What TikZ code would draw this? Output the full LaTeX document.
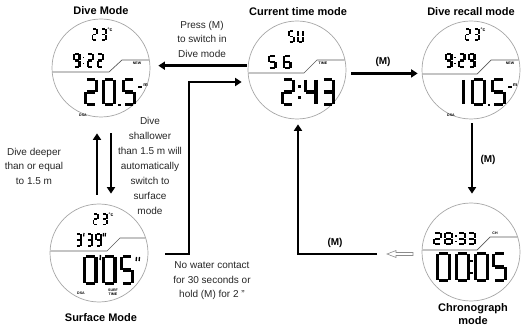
\documentclass[tikz,border=0pt]{standalone}
\usepackage{fontspec}
\setmainfont{Liberation Sans}
\usetikzlibrary{arrows.meta}
\newcommand\lcdA{\draw[segh] (0,0)--(1,0);}
\newcommand\lcdB{\draw[segv] (1,0)--(1,.5);}
\newcommand\lcdC{\draw[segv] (1,.5)--(1,1);}
\newcommand\lcdD{\draw[segh] (0,1)--(1,1);}
\newcommand\lcdE{\draw[segv] (0,.5)--(0,1);}
\newcommand\lcdF{\draw[segv] (0,0)--(0,.5);}
\newcommand\lcdG{\draw[segh] (0,.5)--(1,.5);}
% \dg[line width]{left}{top}{width}{height}{code: 0-9 digits, 10 = U}
\newcommand\dg[6][1.8]{%
 \pgfmathsetmacro\dgW{#4-#1}%
 \pgfmathsetmacro\dgH{#5-#1}%
 \pgfmathsetmacro\dgX{#2+#1/2}%
 \pgfmathsetmacro\dgY{#3+#1/2}%
 \pgfmathsetmacro\dgS{#1*0.3+0.25}%
 \begin{scope}[shift={(\dgX,\dgY)}, x=\dgW pt, y=-\dgH pt, line width=#1pt, line cap=butt,
   segh/.style={shorten <=\dgS pt, shorten >=\dgS pt},
   segv/.style={shorten <=0.3pt, shorten >=0.3pt}]
 \ifcase#6 \lcdA\lcdB\lcdC\lcdD\lcdE\lcdF
 \or \lcdB\lcdC
 \or \lcdA\lcdB\lcdG\lcdE\lcdD
 \or \lcdA\lcdB\lcdG\lcdC\lcdD
 \or \lcdF\lcdG\lcdB\lcdC
 \or \lcdA\lcdF\lcdG\lcdC\lcdD
 \or \lcdA\lcdF\lcdG\lcdE\lcdC\lcdD
 \or \lcdA\lcdB\lcdC
 \or \lcdA\lcdB\lcdC\lcdD\lcdE\lcdF\lcdG
 \or \lcdA\lcdB\lcdC\lcdD\lcdF\lcdG
 \or \lcdB\lcdC\lcdD\lcdE\lcdF
 \fi
 \end{scope}}
% \lcdcolon{x}{top}{height}{dot size}
\newcommand\lcdcolon[4]{%
 \fill ({#1-#4/2},{#2+0.3*#3-#4/2}) rectangle ++(#4,#4);
 \fill ({#1-#4/2},{#2+0.7*#3-#4/2}) rectangle ++(#4,#4);}
% \lcddot{x}{y}{size}
\newcommand\lcddot[3]{\fill ({#1-#3/2},{#2-#3/2}) rectangle ++(#3,#3);}
% \lcdprime{x}{top}{length}{width}
\newcommand\lcdprime[4]{\draw[line width=#4pt] (#1,#2) -- ++(-0.4,#3);}
\begin{document}
\begin{tikzpicture}[x=1pt,y=-1pt,
 face/.style={circle, draw=black!35, line width=0.7pt, minimum size=98pt, inner sep=0pt},
 divider/.style={draw=black!65, line width=0.7pt},
 arr/.style={line width=2.6pt, -{Triangle[length=6.5pt,width=8pt]}},
 lbl/.style={font=\fontsize{10}{14.5}\selectfont, align=center, inner sep=0pt, text=black!85},
 ttl/.style={font=\fontsize{11}{13.5}\selectfont\bfseries, align=center, inner sep=0pt},
 mlbl/.style={font=\fontsize{10}{12}\selectfont\bfseries, inner sep=0pt},
 tiny/.style={font=\fontsize{3.6}{4}\selectfont\bfseries, inner sep=0pt, align=center},
 unit/.style={font=\fontsize{5}{5}\selectfont\bfseries, inner sep=0pt},
]
\useasboundingbox (0,0) rectangle (529,336);

% ---------- titles
\node[ttl] (tdive) at (101,11) {Dive Mode};
\node[ttl] (tcur) at (298,12) {Current time mode};
\node[ttl] (trec) at (471,12) {Dive recall mode};
\node[ttl] (tsurf) at (101,318) {Surface Mode};
\node[ttl] (tchr) at (473,314) {Chronograph\\mode};

% ---------- faces
\node[face] (dive) at (101,68) {};
\node[face] (cur) at (297,70) {};
\node[face] (rec) at (471,70) {};
\node[face] (surf) at (99,253) {};
\node[face] (chr) at (471,252) {};

% dividers
\begin{scope}\clip (dive.center) circle[radius=48.6pt];
 \draw[divider] (40,72) -- (109,72) -- (122,60) -- (160,60);\end{scope}
\begin{scope}\clip (cur.center) circle[radius=48.6pt];
 \draw[divider] (240,73) -- (304,73) -- (317,60) -- (350,60);\end{scope}
\begin{scope}\clip (rec.center) circle[radius=48.6pt];
 \draw[divider] (410,74) -- (477,74) -- (491,60) -- (530,60);\end{scope}
\begin{scope}\clip (surf.center) circle[radius=48.6pt];
 \draw[divider] (40,251) -- (107,251) -- (120,238) -- (155,238);\end{scope}
\begin{scope}\clip (chr.center) circle[radius=48.6pt];
 \draw[divider] (415,250) -- (477,250) -- (490,237) -- (530,237);\end{scope}

% ---------- Dive Mode face
\dg[1.9]{91.5}{28}{6.5}{13}{2}
\dg[1.9]{100}{28}{6.5}{13}{3}
\node[unit] (dc1) at (110,30) {°c};
\dg[2.1]{73}{53}{7.5}{15}{9}
\lcdcolon{83.5}{53}{15}{1.7}
\dg[2.1]{86.5}{53}{7.5}{15}{2}
\dg[2.1]{96.5}{53}{7.5}{15}{2}
\node[tiny] (dn1) at (137,63.5) {NEW};
\dg[3.2]{84}{78}{14}{28}{2}
\dg[3.2]{102}{78}{14}{28}{0}
\lcddot{119.5}{105}{2.4}
\dg[3.2]{122}{78}{14}{28}{5}
\draw[line width=1.4pt] (138,87) -- (141.5,87);
\node[unit] (dm1) at (145.5,85) {m};
\node[tiny] (dd1) at (83,115) {DSA};

% ---------- Current time face
\dg[1.9]{288}{30}{6.5}{13}{5}
\dg[1.9]{297}{30}{6.5}{13}{10}
\dg[2.1]{268}{55}{8.5}{14}{5}
\dg[2.1]{283}{55}{8.5}{14}{6}
\node[tiny] (ct1) at (323,63) {TIME};
\dg[3.2]{281}{78}{14}{28}{2}
\lcdcolon{299.5}{78}{28}{2.4}
\dg[3.2]{303.5}{78}{14}{28}{4}
\dg[3.2]{321}{78}{14}{28}{3}

% ---------- Dive recall face
\dg[1.9]{464.5}{28}{6.5}{13}{2}
\dg[1.9]{473}{28}{6.5}{13}{3}
\node[unit] (rc1) at (483,30) {°c};
\dg[2.1]{445}{53}{7.5}{15}{9}
\lcdcolon{455}{53}{15}{1.7}
\dg[2.1]{458}{53}{7.5}{15}{2}
\dg[2.1]{468}{53}{7.5}{15}{9}
\node[tiny] (rn1) at (510,63.5) {NEW};
\dg[3.2]{449}{78}{16}{28}{1}
\dg[3.2]{471}{78}{15}{28}{0}
\lcddot{489}{105}{2.4}
\dg[3.2]{491}{78}{15}{28}{5}
\draw[line width=1.4pt] (508,87) -- (511.5,87);
\node[unit] (rm1) at (515,85) {m};
\node[tiny] (rd1) at (451,115) {DSA};

% ---------- Surface face
\dg[1.9]{92.5}{213}{6.5}{12.5}{2}
\dg[1.9]{101}{213}{6.5}{12.5}{3}
\node[unit] (sc1) at (111,215) {°c};
\dg[2.0]{75}{233}{6.5}{14}{3}
\lcdprime{84}{233}{3.5}{1.2}
\dg[2.0]{86}{233}{6.5}{14}{3}
\dg[2.0]{95}{233}{6.5}{14}{9}
\lcdprime{103.5}{233}{3.5}{1.2}
\lcdprime{105.5}{233}{3.5}{1.2}
\dg[3.2]{83}{255}{14.5}{30}{0}
\lcdprime{100.5}{255}{5}{1.5}
\dg[3.2]{102}{255}{14.5}{30}{0}
\dg[3.2]{120}{255}{14}{30}{5}
\lcdprime{136.5}{257}{4}{1.3}
\lcdprime{139.5}{257}{4}{1.3}
\node[tiny] (sd1) at (81,293) {DSA};
\node[tiny] (st1) at (113,292) {SURF\\TIME};

% ---------- Chronograph face
\dg[2.0]{433}{232}{9}{13.5}{2}
\dg[2.0]{444}{232}{9}{13.5}{8}
\lcdcolon{455.7}{232}{13.5}{1.6}
\dg[2.0]{457.5}{232}{8.5}{13.5}{3}
\dg[2.0]{467.5}{232}{8.5}{13.5}{3}
\node[tiny] (hc1) at (495,233) {CH};
\dg[3.2]{436}{252}{15}{30}{0}
\dg[3.2]{455}{252}{15}{30}{0}
\lcdcolon{471.5}{252}{30}{2.4}
\dg[3.2]{474}{252}{15}{30}{0}
\dg[3.2]{492}{252}{15}{30}{5}

% ---------- connectors
\draw[arr, shorten <=1pt, shorten >=8pt] (cur.175) -- (cur.175 -| dive.east);
\draw[arr, shorten <=5pt, shorten >=4pt] (cur.-4) -- (cur.-4 -| rec.west);
\draw[arr, shorten <=4pt, shorten >=9pt] ([xshift=1pt]rec.south) -- ([xshift=1pt]chr.north);
\coordinate (m4) at (377,254);
\draw[arr, shorten >=5pt] (m4) -| ([xshift=1pt]cur.south);
\draw[black!45, line width=0.6pt, fill=white]
  (413,252.5) -- (396,252.5) -- (396,250.5) -- (387,254) -- (396,257.5) -- (396,255.5) -- (413,255.5) -- cycle;
\coordinate (s5) at (165,254);
\coordinate (k5) at (189,82);
\draw[arr, shorten >=6pt] (s5) -| (k5) -- (k5 -| cur.west);
\draw[arr, shorten <=9pt, shorten >=16pt] ([xshift=-2pt]surf.north) -- ([xshift=-4pt]dive.south);
\draw[arr, shorten <=16pt, shorten >=10pt] ([xshift=10pt]dive.south) -- ([xshift=12pt]surf.north);

% ---------- labels
\node[lbl] (lpress) at (202,39) {Press (M)\\to switch in\\Dive mode};
\node[mlbl] (lm1) at (383,62) {(M)};
\node[mlbl] (lm2) at (488,160) {(M)};
\node[mlbl] (lm3) at (335,243) {(M)};
\node[lbl] (ldeep) at (34,166) {Dive deeper\\than or equal\\to 1.5 m};
\node[lbl, font=\fontsize{10}{15}\selectfont] (lshal) at (150,166) {Dive\\shallower\\than 1.5 m will\\automatically\\switch to\\surface\\mode};
\node[lbl] (lnow) at (212,281) {No water contact\\for 30 seconds or\\hold (M) for 2 "};
\end{tikzpicture}
\end{document}
